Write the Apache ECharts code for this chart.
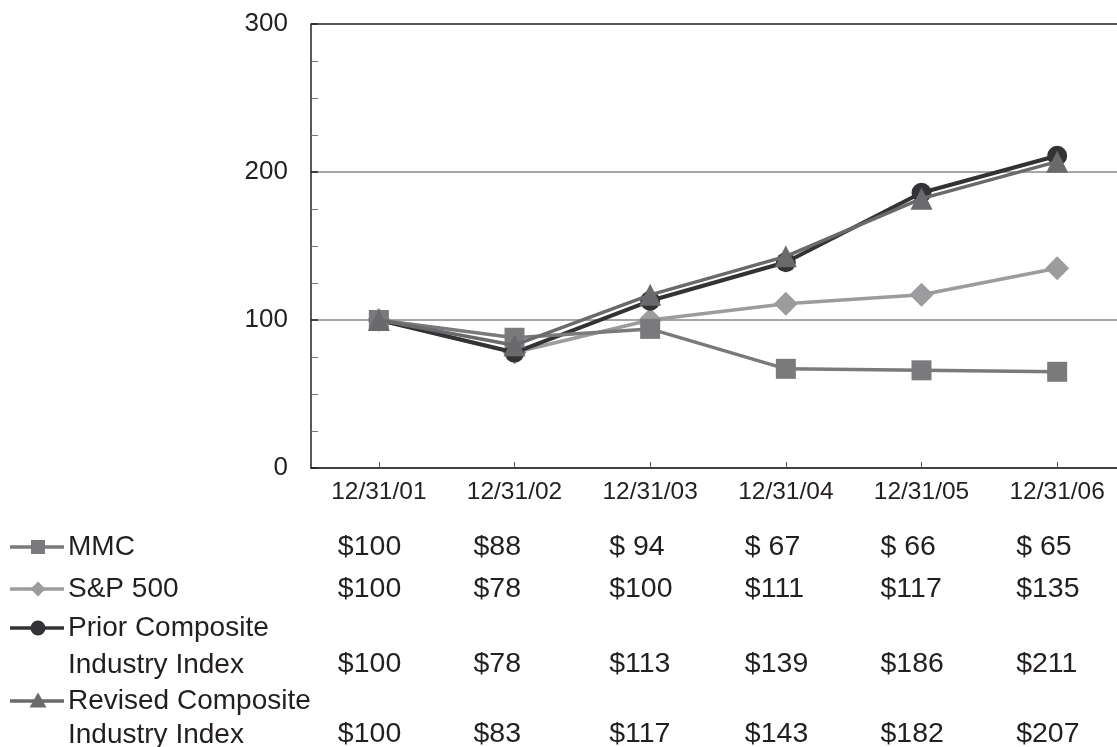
<!DOCTYPE html>
<html>
<head>
<meta charset="utf-8">
<script src="https://cdn.jsdelivr.net/npm/echarts@6/dist/echarts.min.js"></script>
<style>
html,body{margin:0;padding:0;background:#fff;overflow:hidden;width:1117px;height:747px;}
#main{width:1125px;height:747px;}
</style>
</head>
<body>
<div id="main"></div>
<script>
var categories = ['12/31/01', '12/31/02', '12/31/03', '12/31/04', '12/31/05', '12/31/06'];
var mmc = [100, 88, 94, 67, 66, 65];
var sp500 = [100, 78, 100, 111, 117, 135];
var priorComposite = [100, 78, 113, 139, 186, 211];
var revisedComposite = [100, 83, 117, 143, 182, 207];
var yTicks = [0, 100, 200, 300];

var seriesDefs = [
  {name: 'S&P 500', data: sp500, color: '#9c9c9e', symbol: 'diamond', size: 24, w: 3.5, z: 2,
   rows: ['S&P 500'], legendSize: 15},
  {name: 'Prior Composite Industry Index', data: priorComposite, color: '#333335', symbol: 'circle', size: 20, w: 4, z: 3,
   rows: ['Prior Composite', 'Industry Index'], legendSize: 15},
  {name: 'MMC', data: mmc, color: '#7a7a7c', symbol: 'rect', size: 20, w: 3.5, z: 4,
   rows: ['MMC'], legendSize: 14},
  {name: 'Revised Composite Industry Index', data: revisedComposite, color: '#6a6a6c', symbol: 'triangle', size: 22, w: 3.5, z: 5,
   rows: ['Revised Composite', 'Industry Index'], legendSize: 15}
];
// table order as in reference
var tableOrder = ['MMC', 'S&P 500', 'Prior Composite Industry Index', 'Revised Composite Industry Index'];

var FONT = 'Liberation Sans, Arial, sans-serif';
var TXT = '#231f20';

var chart = echarts.init(document.getElementById('main'), null, {renderer: 'canvas'});

var option = {
  animation: false,
  backgroundColor: '#fff',
  grid: {left: 311, right: 0, top: 24, bottom: 279, containLabel: false},
  xAxis: {
    type: 'category',
    data: categories,
    boundaryGap: true,
    axisLine: {show: true, lineStyle: {color: '#222', width: 1.5}},
    axisTick: {show: true, inside: true, alignWithLabel: true, length: 6, lineStyle: {color: '#555', width: 1}},
    axisLabel: {fontSize: 24.5, fontFamily: FONT, color: TXT, margin: 12},
    splitLine: {show: false}
  },
  yAxis: {
    type: 'value',
    min: yTicks[0],
    max: yTicks[yTicks.length - 1],
    interval: 100,
    axisLine: {show: true, lineStyle: {color: '#222', width: 1.5}},
    axisTick: {show: true, inside: true, length: 7, lineStyle: {color: '#222', width: 1.5}},
    minorTick: {show: true, splitNumber: 4, length: 7, lineStyle: {color: '#777', width: 1}},
    axisLabel: {fontSize: 26, fontFamily: FONT, color: TXT, margin: 23},
    splitLine: {show: true, lineStyle: {color: ['#888', '#888', '#888', '#222'], width: 1.5}}
  },
  series: seriesDefs.map(function (s) {
    return {
      name: s.name,
      type: 'line',
      data: s.data,
      symbol: s.symbol,
      symbolSize: s.size,
      z: s.z,
      lineStyle: {color: s.color, width: s.w},
      itemStyle: {color: s.color, borderWidth: 0},
      emphasis: {disabled: true}
    };
  })
};
chart.setOption(option);

// Build bottom table with legend icons
var rowY = {
  'MMC': {labels: [547], values: 547},
  'S&P 500': {labels: [589], values: 589},
  'Prior Composite Industry Index': {labels: [628, 665], values: 664},
  'Revised Composite Industry Index': {labels: [701, 735], values: 734}
};
var graphics = [];
tableOrder.forEach(function (name) {
  var s = seriesDefs.filter(function (d) { return d.name === name; })[0];
  var ry = rowY[name];
  var iy = ry.labels[0];
  graphics.push({type: 'line', shape: {x1: 10, y1: iy, x2: 64, y2: iy},
    style: {stroke: s.color, lineWidth: 3.5}, silent: true});
  var ls = s.legendSize;
  if (s.symbol === 'rect') {
    graphics.push({type: 'rect', shape: {x: 38 - ls / 2, y: iy - ls / 2, width: ls, height: ls}, style: {fill: s.color}});
  } else if (s.symbol === 'circle') {
    graphics.push({type: 'circle', shape: {cx: 38, cy: iy, r: ls / 2}, style: {fill: s.color}});
  } else if (s.symbol === 'diamond') {
    graphics.push({type: 'polygon', shape: {points: [[38, iy - ls / 2], [38 + ls / 2, iy], [38, iy + ls / 2], [38 - ls / 2, iy]]}, style: {fill: s.color}});
  } else if (s.symbol === 'triangle') {
    graphics.push({type: 'polygon', shape: {points: [[38, iy - ls / 2 - 1], [38 + ls / 2 + 1, iy + ls / 2 - 1], [38 - ls / 2 - 1, iy + ls / 2 - 1]]}, style: {fill: s.color}});
  }
  s.rows.forEach(function (txt, i) {
    graphics.push({type: 'text', x: 68, y: ry.labels[i], style: {text: txt, font: '28px ' + FONT, fill: TXT, textVerticalAlign: 'middle', verticalAlign: 'middle'}});
  });
  s.data.forEach(function (v, ci) {
    var px = chart.convertToPixel({xAxisIndex: 0}, categories[ci]);
    var label = (v < 100 && ci > 1) ? '$ ' + v : '$' + v;
    graphics.push({type: 'text', x: px - 41, y: ry.values, style: {text: label, font: '28.5px ' + FONT, fill: TXT, textVerticalAlign: 'middle', verticalAlign: 'middle'}});
  });
});
chart.setOption({graphic: graphics});
</script>
</body>
</html>
